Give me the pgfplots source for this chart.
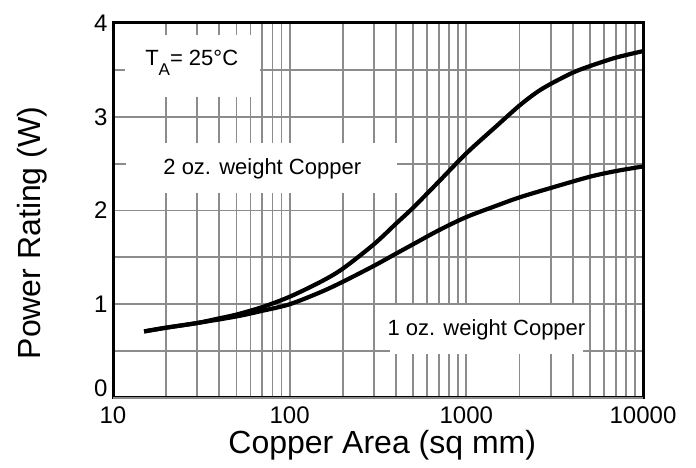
\documentclass[border=0pt]{standalone}
\usepackage{pgfplots}
\pgfplotsset{compat=1.18}
\usepackage{fontspec}
\setmainfont{Liberation Sans}
\begin{document}
\begin{tikzpicture}
\begin{axis}[
  name=ax,
  scale only axis,
  width=530pt, height=375pt,
  xmode=log,
  xmin=10, xmax=10000,
  ymin=0, ymax=4,
  xtick={10,100,1000,10000},
  xticklabels={10,100,1000,10000},
  minor xtick={20,30,40,50,60,70,80,90,200,300,400,500,600,700,800,900,2000,3000,4000,5000,6000,7000,8000,9000},
  ytick={1,2,3,4},
  extra y ticks={0},
  extra y tick style={yticklabel style={yshift=10pt}},
  minor ytick={0.5,1.5,2.5,3.5},
  grid=both,
  major grid style={black!45, line width=1.8pt},
  minor grid style={black!45, line width=1.8pt},
  major tick length=0pt, minor tick length=0pt,
  axis line style={black, line width=3pt},
  /pgf/number format/assume math mode=true,
  ticklabel style={font=\fontsize{24}{28}\selectfont},
  xticklabel style={yshift=-5pt},
  yticklabel style={xshift=-2pt},
  xlabel={Copper Area (sq mm)},
  ylabel={Power Rating (W)},
  every axis x label/.style={at={(axis description cs:0.508,-0.125)}, anchor=center, font=\fontsize{32}{36}\selectfont},
  every axis y label/.style={at={(axis description cs:-0.153,0.44)}, rotate=90, anchor=center, font=\fontsize{32}{36}\selectfont},
  clip=false,
]
% white label boxes
\fill[white] (axis cs:11.7,3.21) rectangle (axis cs:67.7,3.87);
\fill[white] (axis cs:11.9,2.19) rectangle (axis cs:404,2.72);
\fill[white] (axis cs:370,0.47) rectangle (axis cs:4580,0.993);
\node[anchor=center, font=\fontsize{22}{26}\selectfont] at (axis cs:27.9,3.58) {T\raisebox{-0.45em}{\fontsize{17}{20}\selectfont A}= 25°C};
\node[anchor=center, font=\fontsize{22}{26}\selectfont] at (axis cs:70,2.44) {2 oz. weight Copper};
\node[anchor=center, font=\fontsize{22}{26}\selectfont] at (axis cs:1300,0.73) {1 oz. weight Copper};

\addplot[black, line width=4.2pt, smooth] coordinates {
(15,0.71) (20,0.75) (30,0.80) (40,0.85) (50,0.89) (70,0.97) (100,1.08)
(150,1.24) (200,1.38) (300,1.64) (400,1.86) (500,2.03) (700,2.31)
(1000,2.61) (1500,2.91) (2000,3.12) (2500,3.26) (3000,3.35) (4000,3.47) (5000,3.54) (7000,3.63) (10000,3.70)
};
\addplot[black, line width=4.2pt, smooth] coordinates {
(15,0.71) (20,0.75) (30,0.80) (50,0.87) (70,0.93) (100,1.00)
(150,1.13) (200,1.24) (300,1.41) (400,1.54) (500,1.64) (700,1.79)
(1000,1.93) (1500,2.055) (2000,2.14) (3000,2.24) (5000,2.36) (7000,2.42) (10000,2.47)
};
\end{axis}
\pgfresetboundingbox
\path[use as bounding box] ([shift={(-113pt,-70pt)}]ax.south west) rectangle ([shift={(53pt,23pt)}]ax.north east);
\end{tikzpicture}
\end{document}
